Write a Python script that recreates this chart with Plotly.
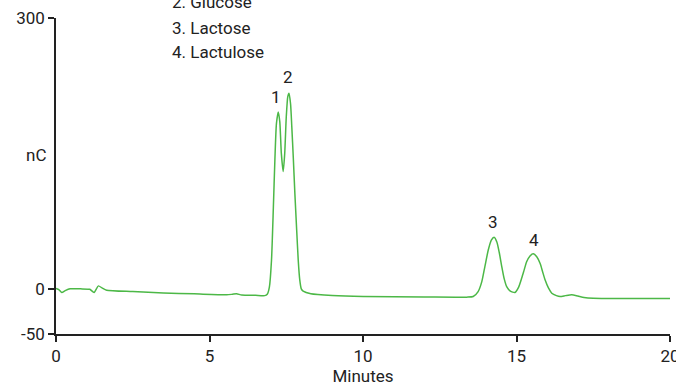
import plotly.graph_objects as go

times = [0.0, 0.1, 0.19, 0.3, 0.46, 0.8, 1.1, 1.24, 1.38, 1.5, 1.65, 2.5, 3.5, 4.5, 5.56, 5.75, 5.88,
         6.05, 6.5, 6.8, 6.88, 6.95, 7.02, 7.08, 7.13, 7.18, 7.24, 7.29, 7.34, 7.40, 7.45, 7.50, 7.55,
         7.59, 7.64, 7.68, 7.73, 7.78, 7.84, 7.89, 7.94, 7.99, 8.05, 8.3, 9.0, 10.0, 12.0, 13.38, 13.59,
         13.75, 13.87, 13.97, 14.08, 14.18, 14.27, 14.36, 14.44, 14.52, 14.6, 14.68, 14.8, 14.95, 15.07,
         15.17, 15.25, 15.33, 15.44, 15.55, 15.66, 15.77, 15.85, 15.93, 16.04, 16.15, 16.3, 16.42, 16.6,
         16.8, 17.0, 17.2, 17.5, 18.5, 20.0]
signal = [0.5, -1, -4, -2, 0, 0, -0.5, -4, 3.3, 1, -1.5, -3, -4.5, -5.5, -6.6, -6, -5.5,
          -6.8, -7.2, -7.5, -6, 2, 32, 90, 143, 183, 196, 185, 150, 130, 150, 190, 213,
          216.7, 205, 180, 145, 106, 65, 32, 10, 0, -2.5, -5.5, -7.4, -8.5, -9, -9.2, -8.5,
          -3, 8, 24.7, 43, 54, 57.2, 52, 40, 24.7, 11, 2.5, -2.5, -4, 2,
          12, 21, 30, 36.5, 38.8, 35.5, 28, 19, 10, 1, -4.8, -7.5, -8.5, -7.5,
          -6.6, -8, -9.5, -10.3, -10.6, -10.7]

peak_labels = ["1", "2", "3", "4"]
peak_label_t = [7.17, 7.56, 14.23, 15.57]
peak_label_v = [212, 235, 74, 54]

legend_lines = ["2. Glucose", "3. Lactose", "4. Lactulose"]
legend_y = [1.051, 0.968, 0.892]

x_ticks = [0, 5, 10, 15, 20]
x_tick_text = ["0", "5", "10", "15", "20"]
y_ticks = [300, 0, -50]
y_tick_text = ["300", "0", "-50"]

FONT = "Roboto, Arial, sans-serif"

fig = go.Figure()
fig.add_trace(go.Scatter(x=times, y=signal, mode="lines",
                         line=dict(color="#4cb847", width=1.5, shape="spline", smoothing=0.6),
                         hoverinfo="skip", showlegend=False))

ann = []
for t, v, s in zip(peak_label_t, peak_label_v, peak_labels):
    ann.append(dict(x=t, y=v, text=s, showarrow=False, xref="x", yref="y",
                    font=dict(size=17, color="#222")))
for s, yy in zip(legend_lines, legend_y):
    ann.append(dict(x=0.1857, y=yy, text=s, showarrow=False, xref="paper", yref="paper",
                    xanchor="left", yanchor="middle", font=dict(size=17, color="#222")))
ann.append(dict(x=-0.032, y=148, text="nC", showarrow=False, xref="paper", yref="y",
                xanchor="center", yanchor="middle", font=dict(size=17, color="#222")))

fig.update_layout(
    width=676, height=390,
    margin=dict(l=56, r=6, t=18, b=56, autoexpand=False),
    paper_bgcolor="white", plot_bgcolor="white",
    font=dict(family=FONT, size=17, color="#222"),
    annotations=ann,
    xaxis=dict(range=[0, 20], tickvals=x_ticks, ticktext=x_tick_text, showgrid=False, zeroline=False,
               showline=True, linecolor="#222", linewidth=1.5, ticks="outside", automargin=False,
               ticklen=6, tickcolor="#222", tickwidth=1.5, ticklabeloverflow="allow",
               title=dict(text="Minutes", standoff=2, font=dict(size=17))),
    yaxis=dict(range=[-50, 300], tickvals=y_ticks, ticktext=y_tick_text, showgrid=False, zeroline=False,
               showline=True, linecolor="#222", linewidth=1.5, ticks="outside", automargin=False,
               ticklen=6, tickcolor="#222", tickwidth=1.5),
)

fig.write_html("out.html")
